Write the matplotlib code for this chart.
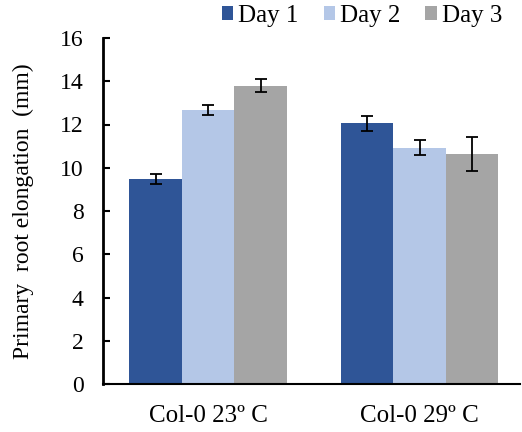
import numpy as np
import matplotlib
matplotlib.use("Agg")
from matplotlib import pyplot as plt

plt.rcParams["font.family"] = ["Liberation Serif", "DejaVu Serif"]

groups = ["Col-0 23º C", "Col-0 29º C"]
series = ["Day 1", "Day 2", "Day 3"]
values = {
    "Day 1": [9.5, 12.05],
    "Day 2": [12.65, 10.93],
    "Day 3": [13.8, 10.63],
}
errors = {
    "Day 1": [0.23, 0.35],
    "Day 2": [0.23, 0.36],
    "Day 3": [0.3, 0.77],
}
colors = ["#2F5597", "#B4C7E7", "#A5A5A5"]

fig = plt.figure(figsize=(5.22, 4.32), dpi=100)
ax = fig.add_axes([103 / 522, 1 - 384 / 432, 417 / 522, 346 / 432])

x = np.arange(len(groups))
w = 0.248
for i, (name, c) in enumerate(zip(series, colors)):
    ax.bar(x + (i - 1) * w, values[name], w, color=c, label=name,
           yerr=errors[name], capsize=4,
           error_kw=dict(elinewidth=1.3, capthick=1.3, ecolor="black"))

ax.set_xlim(-0.497, 1.475)
ax.set_ylim(0, 16)
ax.set_yticks(range(0, 17, 2))
ax.set_xticks(x)
ax.set_xticklabels(groups, fontsize=18)
ax.tick_params(axis="x", length=0, pad=15)
ax.tick_params(axis="y", labelsize=17, length=5, width=1.5, pad=14, direction="in")
ax.spines["top"].set_visible(False)
ax.spines["right"].set_visible(False)
ax.spines["left"].set_linewidth(2)
ax.spines["bottom"].set_linewidth(1.5)
ax.set_ylabel("Primary  root elongation  (mm)", fontsize=17)
ax.yaxis.set_label_coords(-0.165, 0.5)

fig.legend(loc="center right", bbox_to_anchor=(1.005, 1 - 16 / 432), ncol=3, frameon=False,
           fontsize=18, handlelength=0.45, handleheight=0.45, handletextpad=0.2,
           columnspacing=1.0)

plt.savefig("out.png", dpi=100)
